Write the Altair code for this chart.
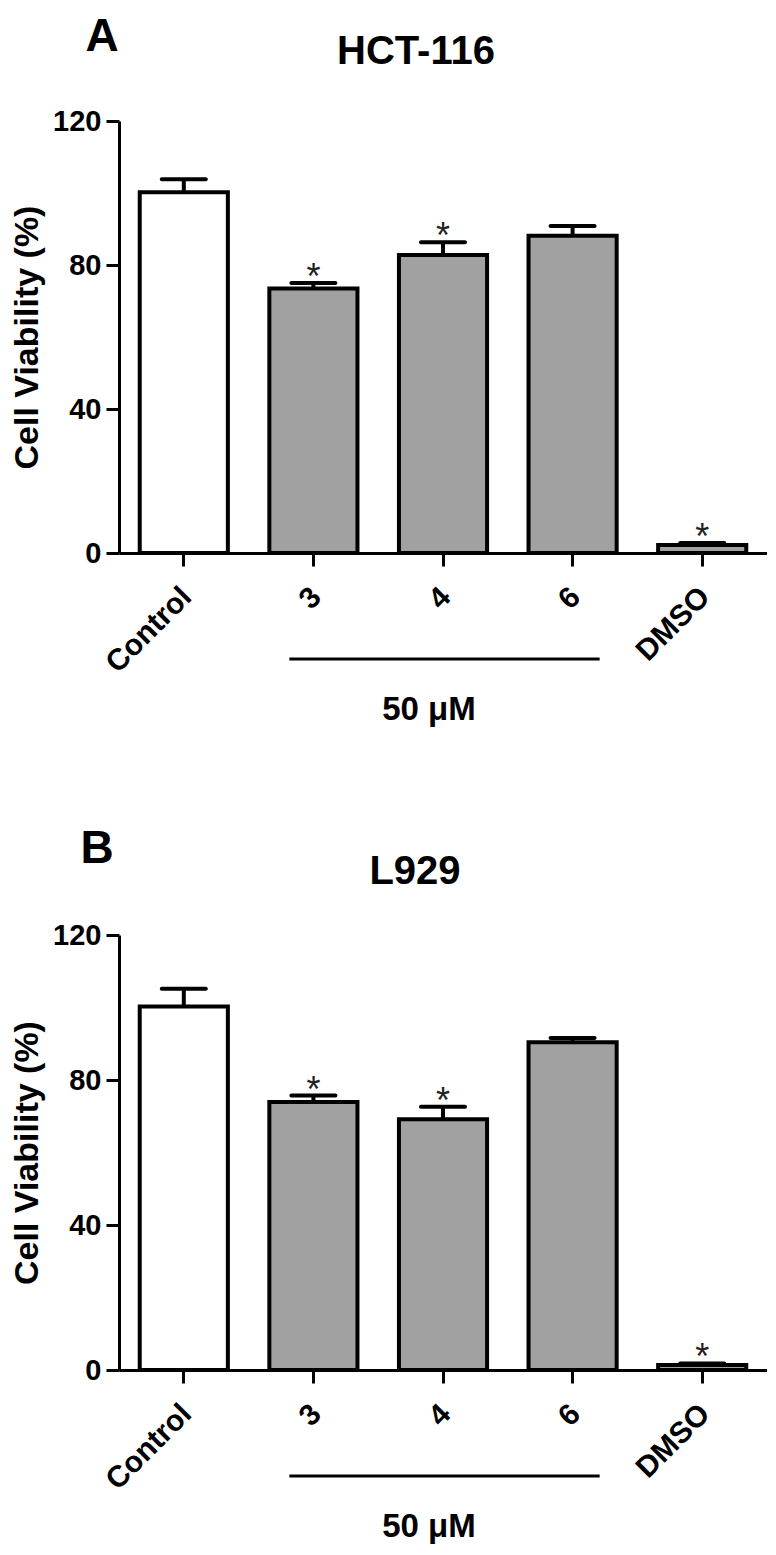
import altair as alt
import pandas as pd

# ---- data ----
categories = ["Control", "3", "4", "6", "DMSO"]
groups = ["control", "treated", "treated", "treated", "treated"]

hct_mean = [100.2, 73.5, 82.8, 88.1, 2.2]
hct_sem = [3.6, 1.5, 3.5, 2.7, 0.6]
hct_sig = [False, True, True, False, True]

l929_mean = [100.3, 73.9, 69.2, 90.4, 1.4]
l929_sem = [4.9, 1.8, 3.4, 1.2, 0.4]
l929_sig = [False, True, True, False, True]

bracket_start = "3"
bracket_end = "6"
bracket_mid = "4"
dose_label = "50 μM"
y_ticks = [0, 40, 80, 120]

FONT = "Liberation Sans"
W = 648


def panel(mean, sem, sig, letter, title, H, letter_x, letter_y, title_x, title_y):
    df = pd.DataFrame({"cat": categories, "grp": groups, "mean": mean,
                       "sem": sem, "sig": sig})
    df["upper"] = df["mean"] + df["sem"]
    ann = pd.DataFrame({"start": [bracket_start], "end": [bracket_end],
                        "mid": [bracket_mid]})

    xscale = alt.Scale(domain=categories, paddingInner=0.32, paddingOuter=0.16)
    xaxis = alt.Axis(title=None, labelAngle=315, labelAlign="right",
                     labelBaseline="middle", labelPadding=26, labelOffset=3,
                     labelFontSize=30, labelFontWeight="bold", labelColor="black",
                     labelOverlap=False, tickSize=13, tickWidth=3, tickColor="black",
                     domainWidth=3, domainColor="black", grid=False)
    yscale = alt.Scale(domain=[0, 120], nice=False)
    yaxis = alt.Axis(values=y_ticks, title="Cell Viability (%)", titleFontSize=34,
                     titleFontWeight="bold", titleColor="black", titlePadding=8,
                     labelFontSize=29, labelFontWeight="bold", labelColor="black",
                     labelPadding=5, tickSize=13, tickWidth=3, tickColor="black",
                     domainWidth=3, domainColor="black", grid=False)

    def X(field="cat"):
        return alt.X(f"{field}:N", scale=xscale, sort=categories, axis=xaxis)

    def Y(field):
        return alt.Y(f"{field}:Q", scale=yscale, axis=yaxis)

    base = alt.Chart(df)
    bars = base.mark_bar(stroke="black", strokeWidth=4).encode(
        x=X(), y=Y("mean"),
        fill=alt.Fill("grp:N", scale=alt.Scale(domain=["control", "treated"],
                                               range=["white", "#a1a1a1"]),
                      legend=None),
    )
    err = base.mark_rule(color="black", strokeWidth=4).encode(
        x=X(), y=Y("mean"), y2="upper:Q")
    caps = base.mark_tick(color="black", opacity=1, thickness=4, size=48,
                          orient="horizontal", cornerRadius=2).encode(
        x=X(), y=Y("upper"))
    stars = base.transform_filter("datum.sig").mark_text(
        text="*", fontSize=36, dy=6, baseline="alphabetic", color="#222222",
        font=FONT).encode(x=X(), y=Y("upper"))

    a = alt.Chart(ann)
    bracket = a.mark_rule(color="black", strokeWidth=3).encode(
        x=alt.X("start:N", scale=xscale, sort=categories, axis=xaxis,
                bandPosition=0.227),
        x2=alt.X2("end:N", bandPosition=0.807),
        y=alt.value(H + 106),
    )
    dose = a.mark_text(text=dose_label, fontSize=33, fontWeight="bold",
                       font=FONT, dx=-14, baseline="alphabetic", color="black").encode(
        x=X("mid"), y=alt.value(H + 167))
    letter_t = a.mark_text(text=letter, fontSize=46, fontWeight="bold", font=FONT,
                           align="center", baseline="alphabetic", color="black").encode(
        x=alt.value(letter_x), y=alt.value(letter_y))
    title_t = a.mark_text(text=title, fontSize=40, fontWeight="bold", font=FONT,
                          align="center", baseline="alphabetic", color="black").encode(
        x=alt.value(title_x), y=alt.value(title_y))

    return alt.layer(bars, err, caps, stars, bracket, dose, letter_t, title_t).properties(
        width=W, height=H)


pA = panel(hct_mean, hct_sem, hct_sig, "A", "HCT-116", 432, -17, -70, 297, -57)
pB = panel(l929_mean, l929_sem, l929_sig, "B", "L929", 435, -22, -72, 296, -51)

chart = alt.vconcat(pA, pB, spacing=99).properties(
    padding={"left": 2, "top": 6, "right": 0, "bottom": 0}
).configure(font=FONT).configure_view(stroke=None)

chart.save("out.html", embed_options={"renderer": "svg", "actions": False})
